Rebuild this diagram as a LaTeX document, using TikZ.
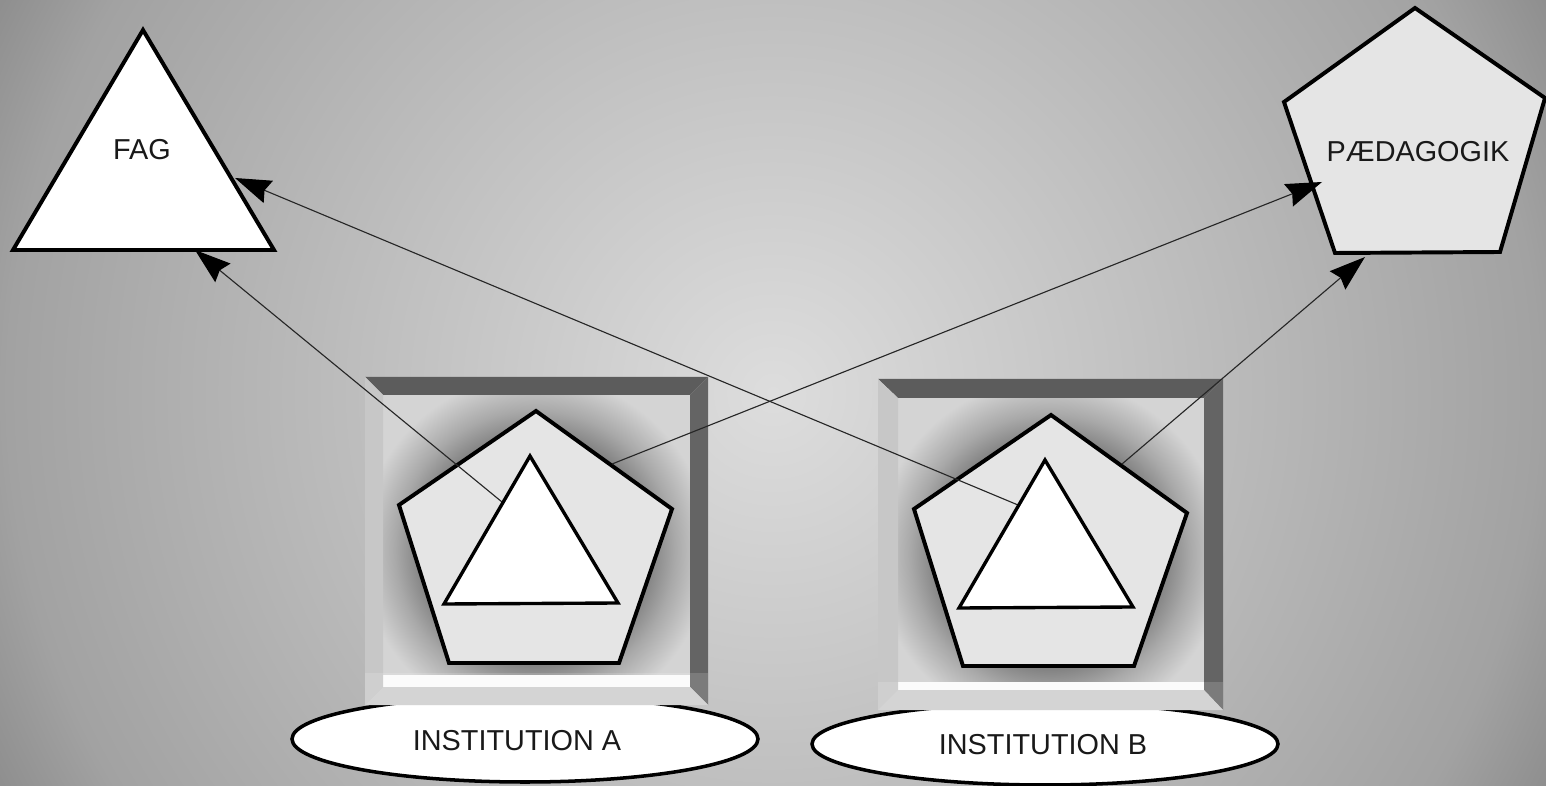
\documentclass[tikz,border=0pt]{standalone}
\usepackage{fontspec}
\setmainfont{Liberation Sans}
\usetikzlibrary{arrows.meta}

\definecolor{bgin}{HTML}{DDDDDD}
\definecolor{bgmid}{HTML}{C0C0C0}
\definecolor{bgedge}{HTML}{A2A2A2}
\definecolor{bgout}{HTML}{8E8E8E}
\definecolor{facegray}{HTML}{D4D4D4}
\definecolor{glowgray}{HTML}{7E7E7E}
\definecolor{glowmid}{HTML}{A9A9A9}
\definecolor{bevdark}{HTML}{5C5C5C}
\definecolor{bevlight}{HTML}{C7C7C7}
\definecolor{pentfill}{HTML}{E5E5E5}

% the middle 50bp of a shading is stretched over the path, so 25bp is its edge
\pgfdeclareradialshading{bgshade}{\pgfpoint{0bp}{0bp}}{color(0bp)=(bgin); color(11bp)=(bgmid); color(22bp)=(bgedge); color(25bp)=(bgout); color(50bp)=(bgout)}
\pgfdeclareradialshading{glowshade}{\pgfpoint{0bp}{0bp}}{color(0bp)=(glowgray); color(16bp)=(glowgray); color(20bp)=(glowmid); color(25bp)=(facegray); color(50bp)=(facegray)}

\begin{document}
\begin{tikzpicture}[
                x=0.025cm, y=-0.025cm, % one unit is one pixel of the sketch
                every node/.style={font=\fontsize{20.5}{24}\selectfont, text=black!90, inner sep=0pt},
                bigshape/.style={draw=black, line width=2.8pt, line join=miter},
                innertri/.style={draw=black, line width=2.4pt, fill=white, line join=miter},
                plate/.style={draw=black, line width=2.5pt, fill=white},
                link/.style={draw=black!85, line width=0.8pt, -{Stealth[length=0.9cm, width=0.6cm, inset=0.1cm, black]}}
            ]

            \useasboundingbox (0,0) rectangle (1546,786);

            % background
            \begin{scope}
                \clip (0,0) rectangle (1546,786);
                \shade[shading=bgshade] (-97,-477) rectangle (1643,1263);
            \end{scope}

            % plates under the boxes
            \draw[plate] (525,739) ellipse [x radius=233, y radius=43];
            \draw[plate] (1045,744) ellipse [x radius=233, y radius=41];

            % Box A
            \fill[facegray] (383,395) rectangle (690,687);
            \begin{scope}
                \clip (383,395) rectangle (690,687);
                \shade[shading=glowshade] (360,375) rectangle (710,725);
            \end{scope}
            \fill[white!97!gray] (383,675) rectangle (690,687);
            \fill[bevdark] (365,377) -- (708,377) -- (690,395) -- (383,395) -- cycle;
            \fill[bevdark!95!white] (708,377) -- (708,705) -- (690,687) -- (690,395) -- cycle;
            \fill[bevlight] (365,377) -- (383,395) -- (383,687) -- (365,705) -- cycle;
            \fill[bevlight!90!white] (365,705) -- (383,687) -- (690,687) -- (708,705) -- cycle;
            \fill[white, opacity=0.15] (365,673) rectangle (708,705);

            % Box B
            \fill[facegray] (898,398) rectangle (1204,690);
            \begin{scope}
                \clip (898,398) rectangle (1204,690);
                \shade[shading=glowshade] (875,379) rectangle (1225,729);
            \end{scope}
            \fill[white!97!gray] (898,682) rectangle (1204,690);
            \fill[bevdark] (878,379) -- (1223,379) -- (1204,398) -- (898,398) -- cycle;
            \fill[bevdark!95!white] (1223,379) -- (1223,710) -- (1204,690) -- (1204,398) -- cycle;
            \fill[bevlight] (878,379) -- (898,398) -- (898,690) -- (878,710) -- cycle;
            \fill[bevlight!90!white] (878,710) -- (898,690) -- (1204,690) -- (1223,710) -- cycle;
            \fill[white, opacity=0.15] (878,682) rectangle (1223,710);

            % pentagons in the boxes
            \draw[bigshape, fill=pentfill] (536,411) -- (672,509) -- (619,663) -- (449,663) -- (399,505) -- cycle;
            \draw[bigshape, fill=pentfill] (1051,415) -- (1187,513) -- (1134,666) -- (963,666) -- (914,509) -- cycle;

            % FAG and PAEDAGOGIK
            \draw[bigshape, fill=white] (143,30) -- (274,250) -- (13,250) -- cycle;
            \draw[bigshape, fill=pentfill] (1415,8) -- (1545,98) -- (1500,252) -- (1335,253) -- (1284,102) -- cycle;

            \coordinate (triA) at (502,502);
            \coordinate (pentA) at (612,464);
            \coordinate (triB) at (1018,505);
            \coordinate (pentB) at (1122,464);
            \coordinate (fagBase) at (195,250);
            \coordinate (fagSide) at (235,178);
            \coordinate (paedSide) at (1322,182);
            \coordinate (paedBase) at (1365,257);

            \draw[link] (triA) -- (fagBase);
            \draw[link] (triB) -- (fagSide);
            \draw[link] (pentA) -- (paedSide);
            \draw[link] (pentB) -- (paedBase);

            % triangles in the boxes
            \draw[innertri] (530,456) -- (618,603) -- (444,604) -- cycle;
            \draw[innertri] (1045,460) -- (1133,607) -- (959,608) -- cycle;

            \node (fag) at (142,150) {FAG};
            \node (paed) at (1418,152) {PÆDAGOGIK};
            \node (instA) at (517,741) {INSTITUTION A};
            \node (instB) at (1043,745) {INSTITUTION B};

        \end{tikzpicture}
\end{document}
